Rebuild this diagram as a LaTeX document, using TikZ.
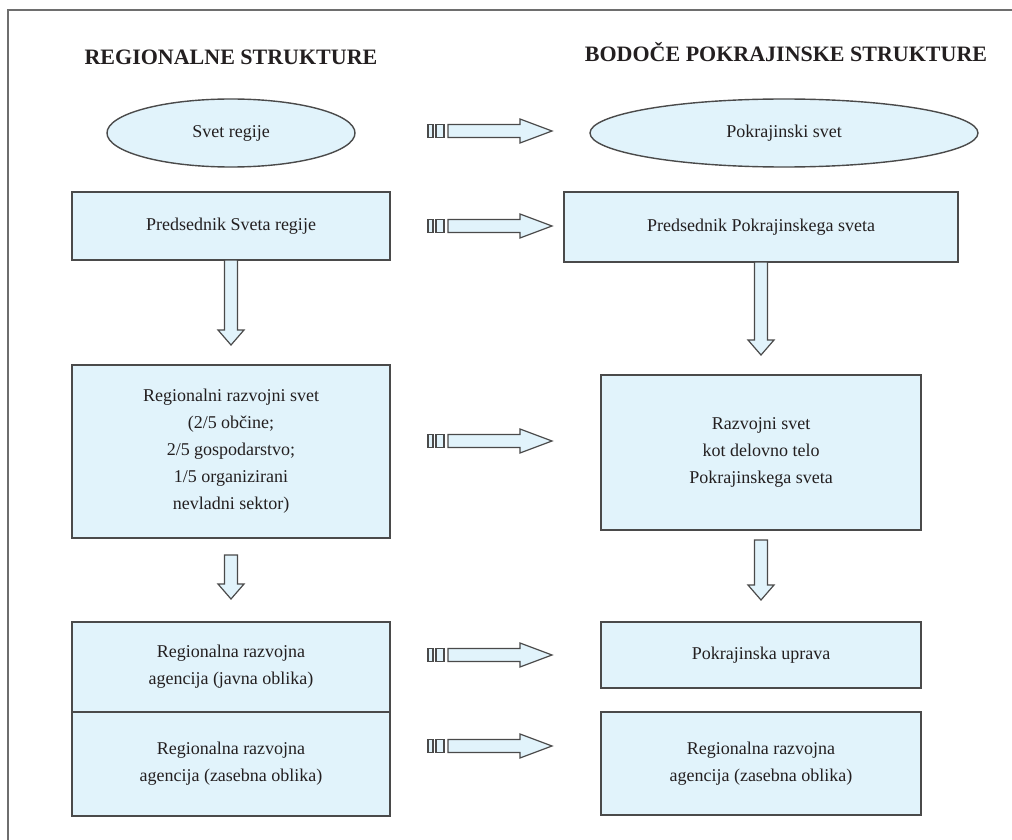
\documentclass[tikz,border=0pt]{standalone}
\usepackage{fontspec}
\setmainfont{Liberation Serif}
\usepackage{tikz}
\usetikzlibrary{calc,positioning,shapes.geometric}
\definecolor{PanelFill}{HTML}{E1F3FB}
\definecolor{PanelLine}{HTML}{4A4A4A}
\definecolor{FrameGray}{HTML}{6E6E6E}
\definecolor{TextInk}{HTML}{231F20}
\tikzset{
  panel/.style={draw=PanelLine,fill=PanelFill,line width=1.4pt,align=center,
    inner sep=0pt,outer sep=0pt,text=TextInk,font=\fontsize{18}{27}\selectfont},
  roundpanel/.style={panel,ellipse},
  heading/.style={font=\bfseries\fontsize{22}{24}\selectfont,text=TextInk},
  fatarrow/.style={draw=PanelLine,fill=PanelFill,line width=1.2pt,line join=miter},
  stripearrow/.pic={
    \draw[fatarrow] (0,-6.5) rectangle (5,6.5);
    \draw[fatarrow] (8,-6.5) rectangle (16,6.5);
    \draw[fatarrow] (20,-6.5) -- (92,-6.5) -- (92,-12) -- (124,0)
      -- (92,12) -- (92,6.5) -- (20,6.5) -- cycle;
  }
}
% block arrow pointing down, from #1 (top) to the tip #2
\newcommand{\fatdown}[2]{%
  \draw[fatarrow] let \p1=(#1), \p2=(#2) in
    (\x1-6.5pt,\y1) -- (\x1-6.5pt,\y2+15pt) -- (\x1-13pt,\y2+15pt) -- (\x2,\y2)
    -- (\x1+13pt,\y2+15pt) -- (\x1+6.5pt,\y2+15pt) -- (\x1+6.5pt,\y1) -- cycle;}

\begin{document}
\begin{tikzpicture}[x=1pt,y=-1pt]
  \useasboundingbox (0,0) rectangle (1012,840);
  \draw[FrameGray,line width=1.6pt] (1012,10) -- (8,10) -- (8,840);

  \node[heading] (lefthead) at (231,57) {REGIONALNE STRUKTURE};
  \node[heading] (righthead) at (786,52) {BODOČE POKRAJINSKE STRUKTURE};

  % regional side
  \node[roundpanel,minimum width=248pt,minimum height=68pt] (svet) at (231,133) {Svet regije};
  \node[panel,minimum width=318pt,minimum height=68pt] (pred) at (231,226) {Predsednik Sveta regije};
  \node[panel,minimum width=318pt,minimum height=173pt,below=105pt of pred] (rrs)
    {Regionalni razvojni svet\\(2/5 občine;\\2/5 gospodarstvo;\\1/5 organizirani\\nevladni sektor)};
  \node[panel,minimum width=318pt,minimum height=90pt,below=84pt of rrs] (rraj)
    {Regionalna razvojna\\agencija (javna oblika)};
  \node[panel,minimum width=318pt,minimum height=104pt,below=0pt of rraj] (rraz)
    {Regionalna razvojna\\agencija (zasebna oblika)};

  % provincial side
  \node[roundpanel,minimum width=388pt,minimum height=68pt] (psvet) at (784,133) {Pokrajinski svet};
  \node[panel,minimum width=394pt,minimum height=70pt] (ppred) at (761,227) {Predsednik Pokrajinskega sveta};
  \node[panel,minimum width=320pt,minimum height=155pt,below=113pt of ppred] (prs)
    {Razvojni svet\\kot delovno telo\\Pokrajinskega sveta};
  \node[panel,minimum width=320pt,minimum height=66pt,below=92pt of prs] (puprava) {Pokrajinska uprava};
  \node[panel,minimum width=320pt,minimum height=103pt,below=24pt of puprava] (pagencija)
    {Regionalna razvojna\\agencija (zasebna oblika)};

  % arrows down each column
  \coordinate (tipa) at ($(rrs.north)+(0,-20)$);
  \coordinate (topb) at ($(rrs.south)+(0,17)$);
  \coordinate (tipb) at ($(rraj.north)+(0,-23)$);
  \coordinate (tipc) at ($(prs.north)+(0,-20)$);
  \coordinate (topd) at ($(prs.south)+(0,10)$);
  \coordinate (tipd) at ($(puprava.north)+(0,-22)$);
  \fatdown{pred.south}{tipa}
  \fatdown{topb}{tipb}
  \fatdown{ppred.south}{tipc}
  \fatdown{topd}{tipd}

  % arrows across
  \coordinate (gutter) at (428,0);
  \pic at ($(gutter |- svet.center)+(0,-2)$) {stripearrow};
  \pic at (gutter |- pred.center) {stripearrow};
  \pic at (428,441) {stripearrow};
  \pic at (gutter |- puprava.center) {stripearrow};
  \pic at (428,746) {stripearrow};
\end{tikzpicture}
\end{document}
